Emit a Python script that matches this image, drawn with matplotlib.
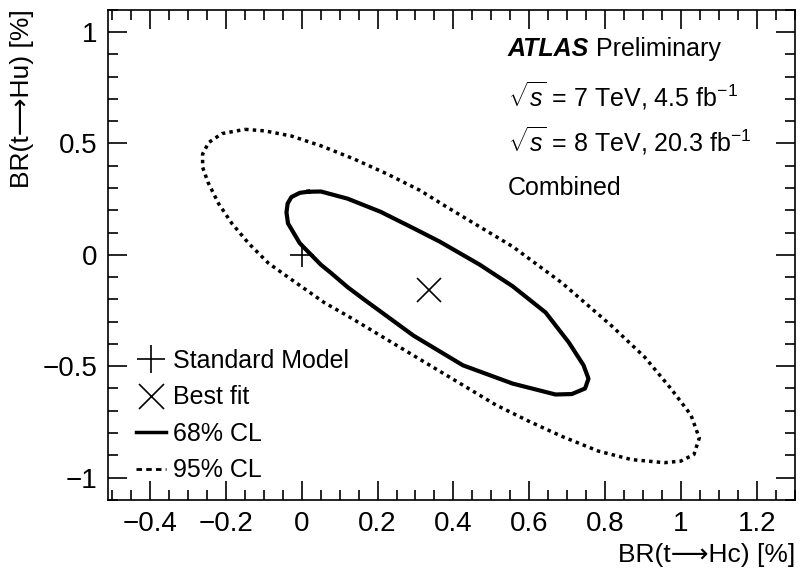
import numpy as np
import matplotlib
matplotlib.use("Agg")
import matplotlib.pyplot as plt
from matplotlib.lines import Line2D
from matplotlib.ticker import MultipleLocator

plt.rcParams['font.family'] = ['Liberation Sans', 'DejaVu Sans']
plt.rcParams['mathtext.fontset'] = 'custom'
plt.rcParams['mathtext.rm'] = 'Liberation Sans'
plt.rcParams['mathtext.it'] = 'Liberation Sans:italic'

# Standard Model and best-fit points
sm_point = (0.0, 0.0)
best_fit = (0.335, -0.16)

# 68% CL contour (BR(t->Hc), BR(t->Hu)) in %
cl68_x = [0.017, 0.051, 0.121, 0.208, 0.295, 0.364, 0.469, 0.556, 0.643, 0.704,
          0.743, 0.756, 0.747, 0.712, 0.669, 0.556, 0.425, 0.295, 0.164, 0.121,
          0.077, 0.051, -0.005, -0.036, -0.040, -0.037, -0.027, -0.005, 0.017]
cl68_y = [0.283, 0.284, 0.252, 0.193, 0.119, 0.059, -0.044, -0.141, -0.259, -0.393,
          -0.496, -0.556, -0.600, -0.625, -0.627, -0.578, -0.496, -0.363, -0.200, -0.145,
          -0.081, -0.045, 0.052, 0.141, 0.190, 0.230, 0.259, 0.278, 0.283]

# 95% CL contour
cl95_x = [-0.149, -0.097, -0.027, 0.051, 0.138, 0.225, 0.312, 0.382, 0.470, 0.556,
          0.686, 0.817, 0.904, 0.973, 1.026, 1.048, 1.034, 0.999, 0.956, 0.869,
          0.782, 0.686, 0.600, 0.512, 0.295, 0.121, 0.060, -0.027, -0.088, -0.140,
          -0.184, -0.219, -0.247, -0.261, -0.261, -0.245, -0.210, -0.149]
cl95_y = [0.563, 0.556, 0.533, 0.489, 0.430, 0.363, 0.289, 0.215, 0.125, 0.037,
          -0.126, -0.319, -0.459, -0.600, -0.719, -0.822, -0.896, -0.926, -0.933, -0.919,
          -0.881, -0.815, -0.748, -0.674, -0.452, -0.274, -0.215, -0.111, -0.037, 0.052,
          0.141, 0.230, 0.326, 0.393, 0.452, 0.504, 0.544, 0.563]

fig = plt.figure(figsize=(8.07, 5.70), dpi=100)
ax = fig.add_axes([0.134, 0.123, 0.851, 0.860])

ax.plot(cl95_x, cl95_y, color='black', lw=2.5, linestyle=(0, (1, 1.2)))
ax.plot(cl68_x, cl68_y, color='black', lw=3)
ax.plot(*sm_point, marker='+', color='black', markersize=17, mew=1.2, linestyle='none')
ax.plot(*best_fit, marker='x', color='black', markersize=17, mew=1.2, linestyle='none')

ax.set_xlim(-0.51, 1.3)
ax.set_ylim(-1.1, 1.1)
ax.xaxis.set_minor_locator(MultipleLocator(0.05))
ax.yaxis.set_minor_locator(MultipleLocator(0.1))
ax.set_xticks([-0.4, -0.2, 0, 0.2, 0.4, 0.6, 0.8, 1.0, 1.2])
ax.set_xticklabels(['\u22120.4', '\u22120.2', '0', '0.2', '0.4', '0.6', '0.8', '1', '1.2'])
ax.set_yticks([-1, -0.5, 0, 0.5, 1])
ax.set_yticklabels(['\u22121', '\u22120.5', '0', '0.5', '1'])
ax.tick_params(which='both', direction='in', top=True, right=True, labelsize=20, width=1.2)
ax.tick_params(which='major', length=14, pad=8)
ax.tick_params(which='minor', length=7)
for s in ax.spines.values():
    s.set_linewidth(1.2)

ax.set_xlabel('BR(t\u27f6Hc) [%]', fontsize=19, loc='right', labelpad=4)
ax.set_ylabel('BR(t\u27f6Hu) [%]', fontsize=19, loc='top', labelpad=6)

tx = 0.582
ax.text(tx, 0.92, 'ATLAS', transform=ax.transAxes, fontsize=18, fontweight='bold',
        fontstyle='italic', va='center')
ax.text(tx + 0.128, 0.92, 'Preliminary', transform=ax.transAxes, fontsize=18, va='center')
ax.text(tx, 0.825, r'$\sqrt{s}$ = 7 TeV, 4.5 fb$^{-1}$', transform=ax.transAxes,
        fontsize=18, va='center')
ax.text(tx, 0.732, r'$\sqrt{s}$ = 8 TeV, 20.3 fb$^{-1}$', transform=ax.transAxes,
        fontsize=18, va='center')
ax.text(tx, 0.637, 'Combined', transform=ax.transAxes, fontsize=18, va='center')

handles = [
    Line2D([], [], marker='+', color='black', markersize=20, mew=1.2, linestyle='none'),
    Line2D([], [], marker='x', color='black', markersize=18, mew=1.2, linestyle='none'),
    Line2D([], [], color='black', lw=2.5),
    Line2D([], [], color='black', lw=2, linestyle=(0, (2, 1.5))),
]
labels = ['Standard Model', 'Best fit', '68% CL', '95% CL']
ax.legend(handles, labels, loc='lower left', bbox_to_anchor=(0.015, 0.0), frameon=False,
          fontsize=18, handlelength=1.2, handletextpad=0.3, labelspacing=0.5,
          borderaxespad=0.3)

fig.savefig('out.png', dpi=100)
